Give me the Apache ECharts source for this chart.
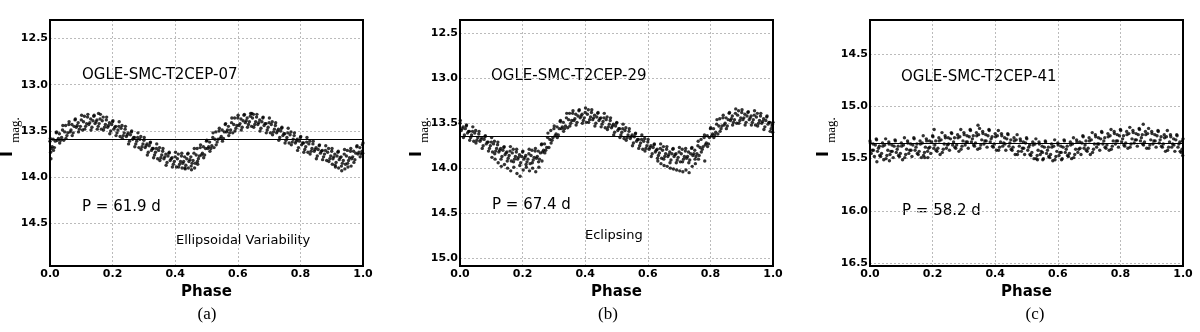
<!DOCTYPE html>
<html>
<head>
<meta charset="utf-8">
<script src="https://cdn.jsdelivr.net/npm/echarts@6/dist/echarts.min.js"></script>
<style>
  html, body { margin: 0; padding: 0; background: #fff; }
  #main { width: 1200px; height: 332px; }
</style>
</head>
<body>
<div id="main"></div>
<script>
const pointsA = [
  [0.000,13.61],[0.004,13.69],[0.007,13.67],[0.003,13.80],[0.002,13.73],
  [0.010,13.59],[0.014,13.68],[0.017,13.61],[0.020,13.52],[0.024,13.60],[0.027,13.58],
  [0.030,13.53],[0.034,13.60],[0.037,13.57],[0.040,13.49],[0.044,13.60],[0.047,13.51],
  [0.050,13.44],[0.054,13.55],[0.057,13.52],[0.060,13.43],[0.064,13.51],[0.067,13.49],
  [0.070,13.43],[0.074,13.52],[0.077,13.45],[0.080,13.38],[0.084,13.46],[0.087,13.44],
  [0.090,13.41],[0.094,13.48],[0.097,13.45],[0.100,13.38],[0.104,13.49],[0.107,13.40],
  [0.110,13.34],[0.114,13.45],[0.117,13.42],[0.120,13.35],[0.124,13.43],[0.127,13.41],
  [0.130,13.37],[0.134,13.46],[0.137,13.39],[0.140,13.34],[0.144,13.42],[0.147,13.40],
  [0.150,13.38],[0.154,13.45],[0.157,13.42],[0.155,13.31],[0.160,13.37],[0.164,13.48],[0.167,13.39],
  [0.170,13.35],[0.174,13.46],[0.177,13.43],[0.180,13.38],[0.184,13.46],[0.187,13.44],
  [0.190,13.41],[0.194,13.50],[0.197,13.43],[0.200,13.40],[0.204,13.48],[0.207,13.46],
  [0.210,13.45],[0.214,13.52],[0.217,13.49],[0.220,13.45],[0.224,13.56],[0.227,13.47],
  [0.230,13.44],[0.234,13.55],[0.237,13.52],[0.240,13.48],[0.244,13.56],[0.247,13.54],
  [0.250,13.52],[0.254,13.61],[0.257,13.54],[0.260,13.51],[0.264,13.59],[0.267,13.57],
  [0.270,13.57],[0.274,13.64],[0.277,13.61],[0.280,13.57],[0.284,13.68],[0.287,13.59],
  [0.290,13.56],[0.294,13.67],[0.297,13.64],[0.300,13.60],[0.304,13.68],[0.307,13.66],
  [0.310,13.64],[0.314,13.73],[0.317,13.66],[0.320,13.63],[0.324,13.71],[0.327,13.69],
  [0.330,13.69],[0.334,13.76],[0.337,13.73],[0.340,13.69],[0.344,13.80],[0.347,13.71],
  [0.350,13.68],[0.354,13.79],[0.357,13.76],[0.360,13.72],[0.364,13.80],[0.367,13.78],
  [0.370,13.75],[0.374,13.84],[0.377,13.77],[0.380,13.74],[0.384,13.82],[0.387,13.80],
  [0.390,13.79],[0.394,13.86],[0.397,13.83],[0.400,13.78],[0.404,13.89],[0.407,13.80],
  [0.410,13.75],[0.414,13.86],[0.417,13.83],[0.420,13.77],[0.424,13.85],[0.427,13.83],[0.422,13.90],
  [0.430,13.78],[0.434,13.87],[0.437,13.80],[0.432,13.91],[0.440,13.75],[0.444,13.83],[0.447,13.81],[0.442,13.90],
  [0.450,13.78],[0.454,13.85],[0.457,13.82],[0.452,13.92],[0.460,13.74],[0.464,13.85],[0.467,13.76],[0.462,13.90],
  [0.470,13.69],[0.474,13.80],[0.477,13.77],[0.472,13.86],[0.480,13.68],[0.484,13.76],[0.487,13.74],
  [0.490,13.67],[0.494,13.76],[0.497,13.69],[0.500,13.61],[0.504,13.69],[0.507,13.67],
  [0.510,13.62],[0.514,13.69],[0.517,13.66],[0.520,13.57],[0.524,13.68],[0.527,13.59],
  [0.530,13.51],[0.534,13.62],[0.537,13.59],[0.540,13.50],[0.544,13.58],[0.547,13.56],
  [0.550,13.49],[0.554,13.58],[0.557,13.51],[0.560,13.43],[0.564,13.51],[0.567,13.49],
  [0.570,13.45],[0.574,13.52],[0.577,13.49],[0.580,13.41],[0.584,13.52],[0.587,13.43],
  [0.590,13.36],[0.594,13.47],[0.597,13.44],[0.600,13.36],[0.604,13.44],[0.607,13.42],
  [0.610,13.37],[0.614,13.46],[0.617,13.39],[0.620,13.33],[0.624,13.41],[0.627,13.39],
  [0.630,13.36],[0.634,13.43],[0.637,13.40],[0.640,13.34],[0.644,13.45],[0.647,13.36],[0.645,13.31],
  [0.650,13.32],[0.654,13.43],[0.657,13.40],[0.660,13.35],[0.664,13.43],[0.667,13.41],
  [0.670,13.38],[0.674,13.47],[0.677,13.40],[0.680,13.36],[0.684,13.44],[0.687,13.42],
  [0.690,13.42],[0.694,13.49],[0.697,13.46],[0.700,13.41],[0.704,13.52],[0.707,13.43],
  [0.710,13.40],[0.714,13.51],[0.717,13.48],[0.720,13.44],[0.724,13.52],[0.727,13.50],
  [0.730,13.48],[0.734,13.57],[0.737,13.50],[0.740,13.47],[0.744,13.55],[0.747,13.53],
  [0.750,13.53],[0.754,13.60],[0.757,13.57],[0.760,13.52],[0.764,13.63],[0.767,13.54],
  [0.770,13.51],[0.774,13.62],[0.777,13.59],[0.780,13.55],[0.784,13.63],[0.787,13.61],
  [0.790,13.59],[0.794,13.68],[0.797,13.61],[0.800,13.57],[0.804,13.65],[0.807,13.63],
  [0.810,13.63],[0.814,13.70],[0.817,13.67],[0.820,13.62],[0.824,13.73],[0.827,13.64],
  [0.830,13.61],[0.834,13.72],[0.837,13.69],[0.840,13.64],[0.844,13.72],[0.847,13.70],
  [0.850,13.68],[0.854,13.77],[0.857,13.70],[0.860,13.66],[0.864,13.74],[0.867,13.72],
  [0.870,13.71],[0.874,13.78],[0.877,13.75],[0.880,13.71],[0.884,13.82],[0.887,13.73],
  [0.890,13.69],[0.894,13.80],[0.897,13.77],[0.900,13.72],[0.904,13.80],[0.907,13.78],[0.902,13.86],
  [0.910,13.75],[0.914,13.84],[0.917,13.77],[0.912,13.89],[0.920,13.73],[0.924,13.81],[0.927,13.79],[0.922,13.90],
  [0.930,13.78],[0.934,13.85],[0.937,13.82],[0.932,13.93],[0.940,13.75],[0.944,13.86],[0.947,13.77],[0.942,13.91],
  [0.950,13.71],[0.954,13.82],[0.957,13.79],[0.952,13.89],[0.960,13.72],[0.964,13.80],[0.967,13.78],[0.962,13.88],
  [0.970,13.72],[0.974,13.81],[0.977,13.74],[0.980,13.67],[0.984,13.75],[0.987,13.73],
  [0.990,13.68],[0.994,13.75],[0.997,13.72],[1.000,13.63],[0.999,13.74],[0.998,13.65]
];
// outer edge of the band, panel (a)
const edgeA = [
  [0.001,13.58],[0.011,13.71],[0.021,13.51],[0.031,13.63],[0.041,13.44],[0.051,13.58],[0.061,13.40],[0.071,13.55],
  [0.081,13.37],[0.091,13.51],[0.101,13.33],[0.111,13.48],[0.121,13.32],[0.131,13.49],[0.141,13.33],[0.151,13.48],
  [0.161,13.32],[0.171,13.49],[0.181,13.35],[0.191,13.53],[0.201,13.39],[0.211,13.55],[0.221,13.40],[0.231,13.58],
  [0.241,13.45],[0.251,13.64],[0.261,13.50],[0.271,13.67],[0.281,13.52],[0.291,13.70],[0.301,13.57],[0.311,13.76],
  [0.321,13.62],[0.331,13.79],[0.341,13.64],[0.351,13.82],[0.361,13.69],[0.371,13.87],[0.381,13.73],[0.391,13.89],
  [0.401,13.73],[0.411,13.89],[0.421,13.74],[0.431,13.90],[0.441,13.74],[0.451,13.88],[0.461,13.69],[0.471,13.83],
  [0.481,13.65],[0.491,13.79],[0.501,13.60],[0.511,13.72],[0.521,13.52],[0.531,13.65],[0.541,13.47],[0.551,13.61],
  [0.561,13.42],[0.571,13.55],[0.581,13.36],[0.591,13.50],[0.601,13.33],[0.611,13.49],[0.621,13.32],[0.631,13.46],
  [0.641,13.31],[0.651,13.46],[0.661,13.32],[0.671,13.50],[0.681,13.35],[0.691,13.52],[0.701,13.36],[0.711,13.54],
  [0.721,13.41],[0.731,13.60],[0.741,13.46],[0.751,13.63],[0.761,13.47],[0.771,13.65],[0.781,13.52],[0.791,13.71],
  [0.801,13.56],[0.811,13.73],[0.821,13.57],[0.831,13.75],[0.841,13.61],[0.851,13.80],[0.861,13.65],[0.871,13.81],
  [0.881,13.66],[0.891,13.83],[0.901,13.69],[0.911,13.87],[0.921,13.72],[0.931,13.88],[0.941,13.70],[0.951,13.85],
  [0.961,13.69],[0.971,13.84],[0.981,13.66],[0.991,13.78]
];

const pointsB = [
  [0.000,13.50],[0.004,13.58],[0.007,13.56],[0.010,13.54],[0.014,13.63],[0.017,13.56],
  [0.020,13.53],[0.024,13.61],[0.027,13.59],[0.030,13.59],[0.034,13.66],[0.037,13.63],
  [0.040,13.59],[0.044,13.70],[0.047,13.61],[0.050,13.58],[0.054,13.69],[0.057,13.66],
  [0.060,13.62],[0.064,13.70],[0.067,13.68],[0.070,13.66],[0.074,13.75],[0.077,13.68],
  [0.080,13.65],[0.084,13.73],[0.087,13.71],[0.090,13.71],[0.094,13.78],[0.097,13.75],
  [0.100,13.71],[0.104,13.82],[0.107,13.73],[0.102,13.88],[0.110,13.70],[0.114,13.81],[0.117,13.78],[0.112,13.90],
  [0.120,13.74],[0.124,13.82],[0.127,13.80],[0.122,13.94],[0.130,13.78],[0.134,13.87],[0.137,13.80],[0.132,13.98],
  [0.140,13.77],[0.144,13.85],[0.147,13.83],[0.142,13.96],[0.150,13.82],[0.154,13.89],[0.157,13.86],[0.152,14.00],
  [0.160,13.81],[0.164,13.92],[0.167,13.83],[0.162,14.03],[0.170,13.79],[0.174,13.90],[0.177,13.87],[0.172,13.99],
  [0.180,13.82],[0.184,13.90],[0.187,13.88],[0.182,14.06],[0.190,13.85],[0.194,13.94],[0.197,13.87],[0.192,14.09],
  [0.200,13.82],[0.204,13.90],[0.207,13.88],[0.202,14.02],[0.210,13.86],[0.214,13.93],[0.217,13.90],[0.212,13.99],
  [0.220,13.84],[0.224,13.95],[0.227,13.86],[0.222,14.03],[0.230,13.80],[0.234,13.91],[0.237,13.88],[0.232,14.00],
  [0.240,13.81],[0.244,13.89],[0.247,13.87],[0.242,14.04],[0.250,13.81],[0.254,13.90],[0.257,13.83],[0.252,13.99],
  [0.260,13.74],[0.264,13.82],[0.267,13.80],[0.262,13.92],[0.270,13.73],[0.274,13.80],[0.277,13.77],
  [0.280,13.66],[0.284,13.77],[0.287,13.68],[0.290,13.58],[0.294,13.69],[0.297,13.66],
  [0.300,13.56],[0.304,13.64],[0.307,13.62],[0.310,13.54],[0.314,13.63],[0.317,13.56],
  [0.320,13.48],[0.324,13.56],[0.327,13.54],[0.330,13.49],[0.334,13.56],[0.337,13.53],
  [0.340,13.44],[0.344,13.55],[0.347,13.46],[0.350,13.39],[0.354,13.50],[0.357,13.47],
  [0.360,13.39],[0.364,13.47],[0.367,13.45],[0.370,13.40],[0.374,13.49],[0.377,13.42],
  [0.380,13.36],[0.384,13.44],[0.387,13.42],[0.390,13.40],[0.394,13.47],[0.397,13.44],
  [0.400,13.38],[0.404,13.49],[0.407,13.40],[0.410,13.35],[0.414,13.46],[0.417,13.43],
  [0.420,13.38],[0.424,13.46],[0.427,13.44],[0.430,13.41],[0.434,13.50],[0.437,13.43],
  [0.440,13.39],[0.444,13.47],[0.447,13.45],[0.450,13.44],[0.454,13.51],[0.457,13.48],
  [0.460,13.44],[0.464,13.55],[0.467,13.46],[0.470,13.43],[0.474,13.54],[0.477,13.51],
  [0.480,13.47],[0.484,13.55],[0.487,13.53],[0.490,13.51],[0.494,13.60],[0.497,13.53],
  [0.500,13.50],[0.504,13.58],[0.507,13.56],[0.510,13.56],[0.514,13.63],[0.517,13.60],
  [0.520,13.56],[0.524,13.67],[0.527,13.58],[0.530,13.55],[0.534,13.66],[0.537,13.63],
  [0.540,13.59],[0.544,13.67],[0.547,13.65],[0.550,13.63],[0.554,13.72],[0.557,13.65],
  [0.560,13.62],[0.564,13.70],[0.567,13.68],[0.570,13.68],[0.574,13.75],[0.577,13.72],
  [0.580,13.68],[0.584,13.79],[0.587,13.70],[0.590,13.67],[0.594,13.78],[0.597,13.75],
  [0.600,13.71],[0.604,13.79],[0.607,13.77],[0.610,13.75],[0.614,13.84],[0.617,13.77],
  [0.620,13.74],[0.624,13.82],[0.627,13.80],[0.630,13.79],[0.634,13.86],[0.637,13.83],[0.632,13.92],
  [0.640,13.78],[0.644,13.89],[0.647,13.80],[0.642,13.95],[0.650,13.76],[0.654,13.87],[0.657,13.84],[0.652,13.97],
  [0.660,13.79],[0.664,13.87],[0.667,13.85],[0.662,13.98],[0.670,13.82],[0.674,13.91],[0.677,13.84],[0.672,14.00],
  [0.680,13.79],[0.684,13.87],[0.687,13.85],[0.682,14.01],[0.690,13.84],[0.694,13.91],[0.697,13.88],[0.692,14.02],
  [0.700,13.82],[0.704,13.93],[0.707,13.84],[0.702,14.03],[0.710,13.79],[0.714,13.90],[0.717,13.87],[0.712,14.04],
  [0.720,13.81],[0.724,13.89],[0.727,13.87],[0.722,14.02],[0.730,13.82],[0.734,13.91],[0.737,13.84],[0.732,14.05],
  [0.740,13.78],[0.744,13.86],[0.747,13.84],[0.742,13.98],[0.750,13.80],[0.754,13.87],[0.757,13.84],[0.752,13.95],
  [0.760,13.75],[0.764,13.86],[0.767,13.77],[0.762,13.90],[0.770,13.68],[0.774,13.79],[0.777,13.76],
  [0.780,13.66],[0.784,13.74],[0.787,13.72],[0.782,13.92],[0.790,13.64],[0.794,13.73],[0.797,13.66],
  [0.800,13.56],[0.804,13.64],[0.807,13.62],[0.810,13.56],[0.814,13.63],[0.817,13.60],
  [0.820,13.51],[0.824,13.62],[0.827,13.53],[0.830,13.45],[0.834,13.56],[0.837,13.53],
  [0.840,13.44],[0.844,13.52],[0.847,13.50],[0.850,13.44],[0.854,13.53],[0.857,13.46],
  [0.860,13.39],[0.864,13.47],[0.867,13.45],[0.870,13.42],[0.874,13.49],[0.877,13.46],
  [0.880,13.39],[0.884,13.50],[0.887,13.41],[0.890,13.36],[0.894,13.47],[0.897,13.44],
  [0.900,13.38],[0.904,13.46],[0.907,13.44],[0.910,13.40],[0.914,13.49],[0.917,13.42],
  [0.920,13.38],[0.924,13.46],[0.927,13.44],[0.930,13.42],[0.934,13.49],[0.937,13.46],
  [0.940,13.41],[0.944,13.52],[0.947,13.43],[0.950,13.39],[0.954,13.50],[0.957,13.47],
  [0.960,13.42],[0.964,13.50],[0.967,13.48],[0.970,13.45],[0.974,13.54],[0.977,13.47],
  [0.980,13.43],[0.984,13.51],[0.987,13.49],[0.990,13.49],[0.994,13.56],[0.997,13.53],
  [1.000,13.49],[0.999,13.60],[0.998,13.51]
];
// outer edge of the band, panel (b)
const edgeB = [
  [0.001,13.47],[0.011,13.66],[0.021,13.52],[0.031,13.69],[0.041,13.54],[0.051,13.72],[0.061,13.59],[0.071,13.78],
  [0.081,13.64],[0.091,13.81],[0.101,13.66],[0.111,13.84],[0.121,13.71],[0.131,13.90],[0.141,13.76],[0.151,13.92],
  [0.161,13.76],[0.171,13.93],[0.181,13.79],[0.191,13.97],[0.201,13.81],[0.211,13.96],[0.221,13.79],[0.231,13.94],
  [0.241,13.78],[0.251,13.93],[0.261,13.73],[0.271,13.83],[0.281,13.61],[0.291,13.72],[0.301,13.53],[0.311,13.66],
  [0.321,13.47],[0.331,13.59],[0.341,13.39],[0.351,13.53],[0.361,13.36],[0.371,13.52],[0.381,13.35],[0.391,13.50],
  [0.401,13.33],[0.411,13.49],[0.421,13.35],[0.431,13.53],[0.441,13.38],[0.451,13.54],[0.461,13.39],[0.471,13.57],
  [0.481,13.44],[0.491,13.63],[0.501,13.49],[0.511,13.66],[0.521,13.51],[0.531,13.69],[0.541,13.56],[0.551,13.75],
  [0.561,13.61],[0.571,13.78],[0.581,13.63],[0.591,13.81],[0.601,13.68],[0.611,13.87],[0.621,13.73],[0.631,13.89],
  [0.641,13.73],[0.651,13.90],[0.661,13.76],[0.671,13.94],[0.681,13.78],[0.691,13.94],[0.701,13.77],[0.711,13.93],
  [0.721,13.78],[0.731,13.94],[0.741,13.77],[0.751,13.90],[0.761,13.70],[0.771,13.82],[0.781,13.63],[0.791,13.76],
  [0.801,13.55],[0.811,13.66],[0.821,13.46],[0.831,13.59],[0.841,13.41],[0.851,13.56],[0.861,13.38],[0.871,13.52],
  [0.881,13.34],[0.891,13.50],[0.901,13.35],[0.911,13.52],[0.921,13.37],[0.931,13.52],[0.941,13.36],[0.951,13.53],
  [0.961,13.39],[0.971,13.57],[0.981,13.42],[0.991,13.59]
];

const pointsC = [
  [0.000,15.33],[0.004,15.45],[0.007,15.42],[0.010,15.36],[0.014,15.48],[0.017,15.37],
  [0.020,15.31],[0.024,15.43],[0.027,15.40],[0.022,15.53],[0.030,15.38],[0.034,15.48],[0.037,15.45],
  [0.040,15.35],[0.044,15.51],[0.047,15.37],[0.050,15.31],[0.054,15.47],[0.057,15.42],
  [0.060,15.34],[0.064,15.46],[0.067,15.43],[0.062,15.52],[0.070,15.37],[0.074,15.49],[0.077,15.38],
  [0.080,15.32],[0.084,15.44],[0.087,15.41],[0.090,15.38],[0.094,15.48],[0.097,15.45],
  [0.100,15.35],[0.104,15.51],[0.107,15.37],[0.110,15.30],[0.114,15.46],[0.117,15.41],
  [0.120,15.33],[0.124,15.45],[0.127,15.42],[0.130,15.36],[0.134,15.48],[0.137,15.37],
  [0.140,15.30],[0.144,15.42],[0.147,15.39],[0.150,15.36],[0.154,15.46],[0.157,15.43],
  [0.160,15.33],[0.164,15.49],[0.167,15.35],[0.170,15.28],[0.174,15.44],[0.177,15.39],[0.175,15.49],
  [0.180,15.31],[0.184,15.43],[0.187,15.40],[0.185,15.49],[0.190,15.33],[0.194,15.45],[0.197,15.34],
  [0.200,15.28],[0.204,15.40],[0.207,15.37],[0.205,15.22],[0.210,15.33],[0.214,15.43],[0.217,15.40],
  [0.220,15.30],[0.224,15.46],[0.227,15.32],[0.230,15.25],[0.234,15.41],[0.237,15.36],
  [0.240,15.28],[0.244,15.40],[0.247,15.37],[0.250,15.30],[0.254,15.42],[0.257,15.31],
  [0.260,15.25],[0.264,15.37],[0.267,15.34],[0.270,15.30],[0.274,15.40],[0.277,15.37],
  [0.280,15.27],[0.284,15.43],[0.287,15.29],[0.290,15.22],[0.294,15.38],[0.297,15.33],
  [0.300,15.25],[0.304,15.37],[0.307,15.34],[0.310,15.28],[0.314,15.40],[0.317,15.29],
  [0.320,15.22],[0.324,15.34],[0.327,15.31],[0.330,15.28],[0.334,15.38],[0.337,15.35],
  [0.340,15.25],[0.344,15.41],[0.347,15.27],[0.345,15.18],[0.350,15.21],[0.354,15.37],[0.357,15.32],
  [0.360,15.24],[0.364,15.36],[0.367,15.33],[0.370,15.27],[0.374,15.39],[0.377,15.28],
  [0.380,15.22],[0.384,15.34],[0.387,15.31],[0.390,15.29],[0.394,15.39],[0.397,15.36],
  [0.400,15.26],[0.404,15.42],[0.407,15.28],[0.410,15.23],[0.414,15.39],[0.417,15.34],
  [0.420,15.26],[0.424,15.38],[0.427,15.35],[0.430,15.30],[0.434,15.42],[0.437,15.31],
  [0.440,15.26],[0.444,15.38],[0.447,15.35],[0.450,15.32],[0.454,15.42],[0.457,15.39],
  [0.460,15.30],[0.464,15.46],[0.467,15.32],[0.470,15.27],[0.474,15.43],[0.477,15.38],
  [0.480,15.31],[0.484,15.43],[0.487,15.40],[0.490,15.34],[0.494,15.46],[0.497,15.35],
  [0.500,15.30],[0.504,15.42],[0.507,15.39],[0.510,15.37],[0.514,15.47],[0.517,15.44],
  [0.520,15.34],[0.524,15.50],[0.527,15.36],[0.530,15.31],[0.534,15.47],[0.537,15.42],[0.535,15.51],
  [0.540,15.34],[0.544,15.46],[0.547,15.43],[0.550,15.38],[0.554,15.50],[0.557,15.39],[0.552,15.51],
  [0.560,15.33],[0.564,15.45],[0.567,15.42],[0.570,15.39],[0.574,15.49],[0.577,15.46],
  [0.580,15.36],[0.584,15.52],[0.587,15.38],[0.590,15.32],[0.594,15.48],[0.597,15.43],
  [0.600,15.35],[0.604,15.47],[0.607,15.44],[0.610,15.38],[0.614,15.50],[0.617,15.39],[0.612,15.51],
  [0.620,15.32],[0.624,15.44],[0.627,15.41],[0.630,15.38],[0.634,15.48],[0.637,15.45],
  [0.640,15.34],[0.644,15.50],[0.647,15.36],[0.650,15.30],[0.654,15.46],[0.657,15.41],
  [0.660,15.32],[0.664,15.44],[0.667,15.41],[0.670,15.34],[0.674,15.46],[0.677,15.35],
  [0.680,15.28],[0.684,15.40],[0.687,15.37],[0.690,15.33],[0.694,15.43],[0.697,15.40],
  [0.700,15.30],[0.704,15.46],[0.707,15.32],[0.710,15.25],[0.714,15.41],[0.717,15.36],
  [0.720,15.27],[0.724,15.39],[0.727,15.36],[0.730,15.30],[0.734,15.42],[0.737,15.31],
  [0.740,15.24],[0.744,15.36],[0.747,15.33],[0.750,15.30],[0.754,15.40],[0.757,15.37],
  [0.760,15.26],[0.764,15.42],[0.767,15.28],[0.770,15.22],[0.774,15.38],[0.777,15.33],
  [0.780,15.24],[0.784,15.36],[0.787,15.33],[0.790,15.27],[0.794,15.39],[0.797,15.28],
  [0.800,15.22],[0.804,15.34],[0.807,15.31],[0.810,15.28],[0.814,15.38],[0.817,15.35],
  [0.820,15.24],[0.824,15.40],[0.827,15.26],[0.830,15.20],[0.834,15.36],[0.837,15.31],
  [0.840,15.23],[0.844,15.35],[0.847,15.32],[0.850,15.26],[0.854,15.38],[0.857,15.27],
  [0.860,15.21],[0.864,15.33],[0.867,15.30],[0.870,15.27],[0.874,15.37],[0.877,15.34],[0.873,15.17],
  [0.880,15.24],[0.884,15.40],[0.887,15.26],[0.890,15.21],[0.894,15.37],[0.897,15.32],
  [0.900,15.24],[0.904,15.36],[0.907,15.33],[0.910,15.27],[0.914,15.39],[0.917,15.28],
  [0.920,15.23],[0.924,15.35],[0.927,15.32],[0.930,15.29],[0.934,15.39],[0.937,15.36],
  [0.940,15.27],[0.944,15.43],[0.947,15.29],[0.950,15.23],[0.954,15.39],[0.957,15.34],
  [0.960,15.27],[0.964,15.39],[0.967,15.36],[0.970,15.31],[0.974,15.43],[0.977,15.32],
  [0.980,15.27],[0.984,15.39],[0.987,15.36],[0.990,15.34],[0.994,15.44],[0.997,15.41],
  [1.000,15.31],[0.999,15.47],[0.998,15.33]
];
// more observations inside the band, panel (c)
const edgeC = [
  [0.001,15.35],[0.011,15.42],[0.021,15.32],[0.031,15.47],[0.041,15.38],[0.051,15.50],[0.061,15.36],[0.071,15.43],
  [0.081,15.33],[0.091,15.47],[0.101,15.38],[0.111,15.49],[0.121,15.35],[0.131,15.42],[0.141,15.31],[0.151,15.45],
  [0.161,15.36],[0.171,15.47],[0.181,15.33],[0.191,15.39],[0.201,15.29],[0.211,15.42],[0.221,15.33],[0.231,15.44],
  [0.241,15.30],[0.251,15.36],[0.261,15.26],[0.271,15.39],[0.281,15.30],[0.291,15.41],[0.301,15.27],[0.311,15.34],
  [0.321,15.23],[0.331,15.37],[0.341,15.28],[0.351,15.40],[0.361,15.26],[0.371,15.33],[0.381,15.23],[0.391,15.38],
  [0.401,15.29],[0.411,15.42],[0.421,15.28],[0.431,15.36],[0.441,15.27],[0.451,15.41],[0.461,15.33],[0.471,15.46],
  [0.481,15.33],[0.491,15.40],[0.501,15.31],[0.511,15.46],[0.521,15.37],[0.531,15.50],[0.541,15.36],[0.551,15.44],
  [0.561,15.34],[0.571,15.48],[0.581,15.39],[0.591,15.51],[0.601,15.37],[0.611,15.44],[0.621,15.33],[0.631,15.47],
  [0.641,15.37],[0.651,15.49],[0.661,15.34],[0.671,15.40],[0.681,15.29],[0.691,15.42],[0.701,15.33],[0.711,15.44],
  [0.721,15.29],[0.731,15.36],[0.741,15.25],[0.751,15.39],[0.761,15.29],[0.771,15.41],[0.781,15.26],[0.791,15.33],
  [0.801,15.23],[0.811,15.37],[0.821,15.27],[0.831,15.39],[0.841,15.25],[0.851,15.32],[0.861,15.22],[0.871,15.36],
  [0.881,15.27],[0.891,15.40],[0.901,15.26],[0.911,15.33],[0.921,15.24],[0.931,15.38],[0.941,15.30],[0.951,15.42],
  [0.961,15.29],[0.971,15.37],[0.981,15.28],[0.991,15.43]
];

const meanMag = [13.59, 13.65, 15.35];
const yRange = [[12.30, 14.96], [12.35, 15.09], [14.17, 16.53]];
const yTicks = [
  [12.5, 13.0, 13.5, 14.0, 14.5],
  [12.5, 13.0, 13.5, 14.0, 14.5, 15.0],
  [14.5, 15.0, 15.5, 16.0, 16.5]
];
const starNames = ["OGLE-SMC-T2CEP-07", "OGLE-SMC-T2CEP-29", "OGLE-SMC-T2CEP-41"];
const periods = ["P = 61.9 d", "P = 67.4 d", "P = 58.2 d"];
const types = ["Ellipsoidal Variability", "Eclipsing", ""];
const captions = ["(a)", "(b)", "(c)"];

const chart = echarts.init(document.getElementById("main"), null, { renderer: "canvas" });

const grids = [
  { left: 50, width: 313, top: 20, height: 246 },
  { left: 460, width: 313, top: 20, height: 246 },
  { left: 870, width: 313, top: 20, height: 246 }
];

const tickFont = { fontFamily: "DejaVu Sans", fontWeight: "bold", fontSize: 11, color: "#000" };
const fmt = (v) => Number(v).toFixed(1);
const gridLine = { show: true, lineStyle: { color: "#bbb", type: [2, 2], width: 1 } };

const panelData = [pointsA.concat(edgeA), pointsB.concat(edgeB), pointsC.concat(edgeC)];

const option = {
  animation: false,
  backgroundColor: "#fff",
  grid: grids.map((g) => ({ ...g })),
  xAxis: grids.map((g, i) => ({
    type: "value",
    gridIndex: i,
    min: 0,
    max: 1,
    interval: 0.2,
    name: "Phase",
    nameLocation: "middle",
    nameGap: 10,
    nameTextStyle: { fontFamily: "DejaVu Sans", fontWeight: "bold", fontSize: 15, color: "#000" },
    axisLine: { show: false },
    axisTick: { show: false },
    axisLabel: { ...tickFont, margin: 3, formatter: fmt },
    splitLine: gridLine
  })),
  yAxis: grids.map((g, i) => ({
    type: "value",
    gridIndex: i,
    inverse: true,
    min: yRange[i][0],
    max: yRange[i][1],
    axisLine: { show: false },
    axisTick: { show: false, customValues: yTicks[i] },
    axisLabel: { ...tickFont, margin: 2, formatter: fmt, customValues: yTicks[i] },
    splitLine: gridLine
  })),
  series: panelData.map((pts, i) => ({
    type: "scatter",
    xAxisIndex: i,
    yAxisIndex: i,
    data: pts,
    symbol: "circle",
    symbolSize: 3.4,
    itemStyle: { color: "#000" },
    silent: true,
    markLine: {
      silent: true,
      symbol: ["none", "none"],
      label: { show: false },
      lineStyle: { color: "#000", width: 1, type: "solid" },
      data: [{ yAxis: meanMag[i] }]
    }
  })),
  graphic: []
};

const nameFont = "15px 'DejaVu Sans'";
const textPos = [
  { name: [82, 75], per: [82, 207], type: [176, 241], cap: [207, 315], yl: [8, 16] },
  { name: [491, 76], per: [492, 205], type: [585, 236], cap: [608, 315], yl: [417, 425] },
  { name: [901, 77], per: [902, 211], type: [0, 0], cap: [1035, 315], yl: [824, 832] }
];

textPos.forEach((p, i) => {
  const g = grids[i];
  option.graphic.push(
    { type: "rect", z: 100, silent: true, shape: { x: g.left, y: g.top, width: g.width, height: g.height }, style: { fill: "none", stroke: "#000", lineWidth: 2 } },
    { type: "text", x: p.name[0], y: p.name[1], style: { text: starNames[i], font: nameFont, fill: "#000", align: "left", verticalAlign: "middle" } },
    { type: "text", x: p.per[0], y: p.per[1], style: { text: periods[i], font: nameFont, fill: "#000", align: "left", verticalAlign: "middle" } },
    { type: "text", x: p.cap[0], y: p.cap[1], style: { text: captions[i], font: "17px 'Liberation Serif'", fill: "#000", align: "center", verticalAlign: "middle" } },
    { type: "text", x: p.yl[0], y: 154, rotation: Math.PI / 2, style: { text: "I", font: "bold 16px 'DejaVu Sans'", fill: "#000", align: "center", verticalAlign: "middle" } },
    { type: "text", x: p.yl[1], y: 130, rotation: Math.PI / 2, style: { text: "mag.", font: "13px 'Liberation Serif'", fill: "#000", align: "center", verticalAlign: "middle" } }
  );
  if (types[i]) {
    option.graphic.push({ type: "text", x: p.type[0], y: p.type[1], style: { text: types[i], font: "13px 'DejaVu Sans'", fill: "#000", align: "left", verticalAlign: "middle" } });
  }
});

chart.setOption(option);
</script>
</body>
</html>
